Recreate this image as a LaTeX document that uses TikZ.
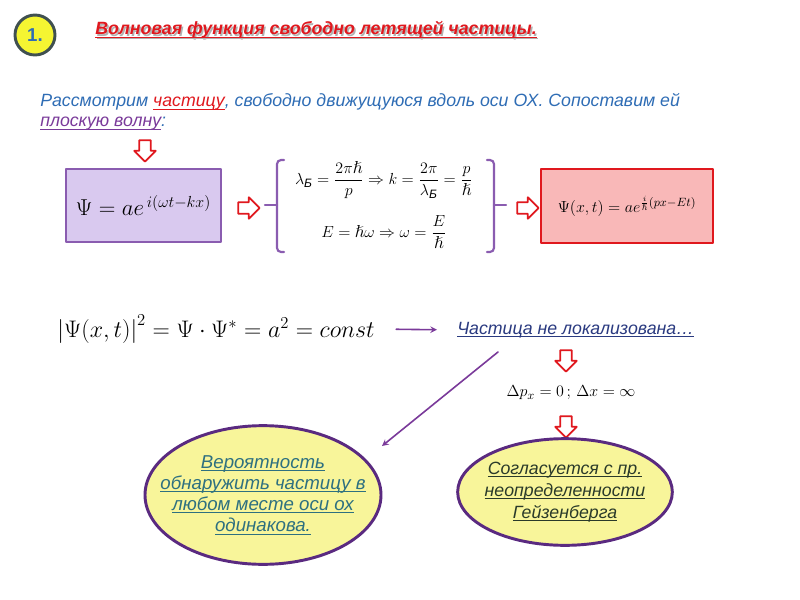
\documentclass[tikz,border=0pt]{standalone}
\usepackage{fontspec}
\setmainfont{Liberation Sans}
\usepackage{amsmath,amssymb}
\newcommand{\ulin}[1]{\setbox0\hbox{#1}\rlap{\rule[-2.2pt]{\wd0}{0.7pt}}\box0}
\usetikzlibrary{shapes.arrows,shapes.geometric}
\definecolor{txtblue}{HTML}{2F6DB5}
\definecolor{titlered}{HTML}{E0181E}
\definecolor{wavepurple}{HTML}{7A3A9A}
\definecolor{navy}{HTML}{2A3A80}
\definecolor{tealtxt}{HTML}{2E7080}
\definecolor{darktxt}{HTML}{2A3A2A}
\definecolor{lilac}{HTML}{D9C9EF}
\definecolor{lilacline}{HTML}{8A5CB0}
\definecolor{pinkfill}{HTML}{F9B8B8}
\definecolor{ovalfill}{HTML}{F8F59A}
\definecolor{ovalline}{HTML}{5A2A80}
\begin{document}
\begin{tikzpicture}[x=0.75pt,y=-0.75pt, line join=round, line cap=round, >=stealth,
  hollow/.style={single arrow, draw=titlered, fill=white, line width=1.3pt, inner sep=3.7pt,
    single arrow head extend=3.7pt, minimum height=16pt},
  brace/.style={draw=lilacline, line width=1.6pt, rounded corners=3pt},
  oval/.style={ellipse, draw=ovalline, line width=2.2pt, fill=ovalfill},
  body/.style={font=\fontsize{13.3}{15}\selectfont\itshape, inner sep=0pt}]
	\fill[white] (0,0) rectangle (800,600);
	\useasboundingbox (0,0) rectangle (800,600);
	\node[circle, draw={rgb,255:red,64;green,80;blue,80}, line width=2.2pt, fill={rgb,255:red,245;green,245;blue,50},
	  minimum size=30pt, inner sep=0pt, text=txtblue, font=\fontsize{14}{15}\selectfont\bfseries] (num) at (35,35) {1.};
	\node[anchor=west, text=black!30, body, font=\fontsize{13.3}{15}\selectfont\bfseries\itshape] (shadow) at (96.5,31.5) {\ulin{Волновая функция свободно летящей частицы.}};
	\node[anchor=west, text=titlered, body, font=\fontsize{13.3}{15}\selectfont\bfseries\itshape] (title) at (95,30) {\ulin{Волновая функция свободно летящей частицы.}};
	\node[anchor=west, align=left, text=txtblue, body] (intro) at (40,112)
	  {Рассмотрим \textcolor{titlered}{\ulin{частицу}}, свободно движущуюся вдоль оси ОХ. Сопоставим ей\\
	   \textcolor{wavepurple}{\ulin{плоскую волну}}:};
	\node[hollow, rotate=-90] (a1) at (145,148) {};
	\node[draw=lilacline, line width=1.2pt, fill=lilac, minimum width=116pt, minimum height=55pt] (wave) at (143.5,205.5)
	  {\fontsize{17}{19}\selectfont $\Psi = ae^{\,i(\omega t - kx)}$};
	\node[hollow] (a2) at (246,208) {};
	\node[align=center, inner sep=0pt] (rel) at (384,205)
	  {\fontsize{13}{15}\selectfont $\lambda_{\textit{Б}} = \dfrac{2\pi\hslash}{p} \Rightarrow k = \dfrac{2\pi}{\lambda_{\textit{Б}}} = \dfrac{p}{\hslash}$\\[12pt]
	   \fontsize{13}{15}\selectfont $E = \hslash\omega \Rightarrow \omega = \dfrac{E}{\hslash}$};
	\draw[brace] (284,160) -| (277,205) |- (284,252);
	\draw[brace] (277,205) -- (265,205);
	\draw[brace] (487,160) -| (494,205) |- (487,252);
	\draw[brace] (494,205) -- (506,205);
	\node[hollow] (a3) at (525,208) {};
	\node[draw=titlered, line width=1.5pt, fill=pinkfill, minimum width=129pt, minimum height=55pt] (plane) at (627,206)
	  {\fontsize{13}{15}\selectfont $\Psi(x,t) = ae^{\frac{i}{\hslash}(px - Et)}$};
	\node[inner sep=0pt, scale=1.04, transform shape] (modsq) at (216,329)
	  {\fontsize{17}{19}\selectfont $\left|\Psi(x,t)\right|^2 = \Psi\cdot\Psi^{*} = a^2 = const$};
	\node[anchor=west, text=navy, body] (notloc) at (457,330) {\ulin{Частица не локализована…}};
	\draw[->, wavepurple, line width=1.2pt, shorten <=16pt, shorten >=15pt] (modsq.east) -- (notloc.west);
	\node[hollow, rotate=-90] (a4) at (566,358) {};
	\node[inner sep=0pt] (uncert) at (571,393) {\fontsize{12.5}{14}\selectfont $\Delta p_x = 0\,;\,\Delta x = \infty$};
	\node[hollow, rotate=-90] (a5) at (566,424) {};
	\coordinate (dstart) at (498,352);
	\coordinate (dtip) at (382,446);
	\draw[->, wavepurple, line width=1.2pt] (dstart) -- (dtip);
	\node[oval, minimum width=177pt, minimum height=104pt] (probov) at (263,495) {};
	\node[align=center, text=tealtxt, body, font=\fontsize{14}{15.8}\selectfont\itshape] (prob) at (probov.center)
	  {\ulin{Вероятность}\\ \ulin{обнаружить частицу в}\\ \ulin{любом месте оси ох}\\ \ulin{одинакова.}};
	\node[oval, minimum width=161pt, minimum height=80pt] (heisov) at (565,492) {};
	\node[align=center, text=darktxt, body, font=\fontsize{13.3}{16.5}\selectfont\itshape] (heis) at (heisov.center)
	  {\ulin{Согласуется с пр.}\\ \ulin{неопределенности}\\ \ulin{Гейзенберга}};
\end{tikzpicture}
\end{document}
